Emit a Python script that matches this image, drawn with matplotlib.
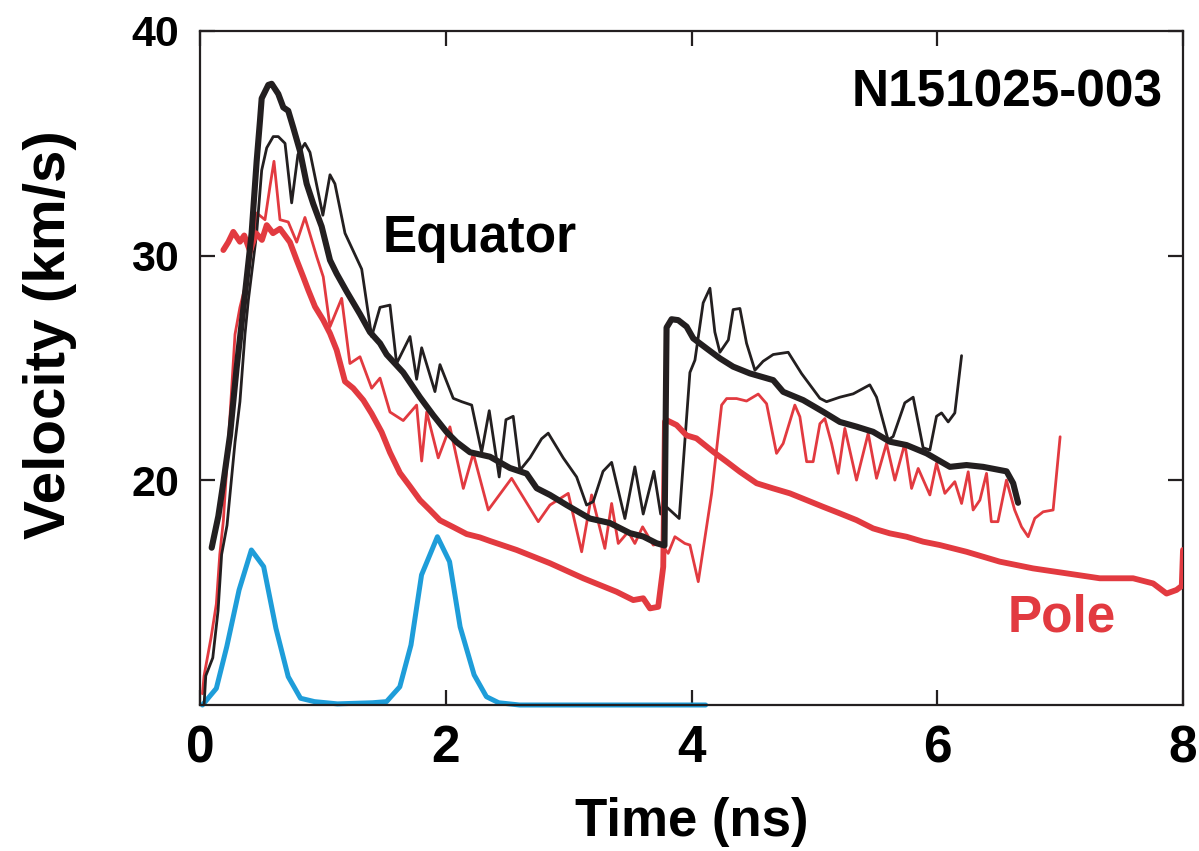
import matplotlib
matplotlib.use("Agg")
import matplotlib.pyplot as plt

# ---------------- data ----------------
eq_fit_t = [0.095, 0.149, 0.19, 0.244, 0.298, 0.366, 0.42, 0.461, 0.488, 0.502, 0.556, 0.583, 0.637, 0.678,
            0.718, 0.759, 0.814, 0.868, 0.922, 0.99, 1.058, 1.112, 1.194, 1.302, 1.383, 1.465, 1.519, 1.654,
            1.79, 1.898, 2.007, 2.089, 2.197, 2.36, 2.522, 2.658, 2.74, 2.848, 2.984, 3.173, 3.336, 3.499,
            3.607, 3.716, 3.78, 3.797, 3.838, 3.892, 3.96, 4.014, 4.123, 4.231, 4.339, 4.475, 4.665, 4.746,
            4.909, 5.072, 5.207, 5.343, 5.478, 5.614, 5.75, 5.913, 6.103, 6.238, 6.373, 6.564, 6.618, 6.658]
eq_fit_v = [17.0, 18.4, 19.9, 22.0, 25.0, 28.3, 31.0, 34.2, 36.0, 37.0, 37.6, 37.65, 37.2, 36.6,
            36.45, 35.7, 34.65, 33.2, 32.3, 31.3, 29.8, 29.2, 28.4, 27.4, 26.6, 26.1, 25.6, 24.8,
            23.7, 22.9, 22.15, 21.7, 21.25, 21.05, 20.55, 20.3, 19.65, 19.35, 18.9, 18.3, 18.1, 17.65,
            17.5, 17.2, 17.1, 26.8, 27.17, 27.13, 26.84, 26.32, 25.87, 25.43, 25.06, 24.76, 24.46, 23.94,
            23.57, 23.05, 22.6, 22.39, 22.16, 21.72, 21.57, 21.2, 20.6, 20.68, 20.6, 20.4, 19.87, 19.0]

eq_t = [0.033, 0.047, 0.104, 0.147, 0.176, 0.22, 0.285, 0.325, 0.366, 0.393, 0.461, 0.502, 0.543, 0.596,
        0.637, 0.692, 0.746, 0.797, 0.854, 0.895, 1.0, 1.058, 1.098, 1.18, 1.316, 1.397, 1.465, 1.546,
        1.60, 1.709, 1.763, 1.804, 1.912, 1.953, 2.061, 2.13, 2.211, 2.292, 2.354, 2.435, 2.49, 2.549,
        2.604, 2.685, 2.78, 2.834, 2.956, 3.065, 3.146, 3.20, 3.28, 3.35, 3.458, 3.539, 3.607, 3.694,
        3.749, 3.80, 3.90, 3.987, 4.028, 4.095, 4.15, 4.19, 4.231, 4.30, 4.339, 4.394, 4.448, 4.516,
        4.583, 4.665, 4.787, 4.896, 5.045, 5.099, 5.207, 5.316, 5.451, 5.506, 5.60, 5.641, 5.736, 5.804,
        5.885, 5.94, 5.994, 6.035, 6.089, 6.143, 6.198]
eq_v = [10.0, 11.3, 12.1, 14.2, 16.7, 18.0, 21.7, 23.5, 26.5, 28.0, 31.0, 33.8, 34.8, 35.3,
        35.3, 35.0, 32.35, 34.5, 35.0, 34.6, 31.8, 33.6, 33.2, 31.0, 29.4, 26.4, 27.7, 27.8,
        25.2, 26.4, 24.5, 25.9, 23.95, 25.15, 23.65, 23.5, 23.35, 21.25, 23.1, 20.15, 22.7, 22.85,
        20.45, 21.0, 21.85, 22.1, 21.0, 20.15, 18.9, 19.05, 20.4, 20.8, 18.3, 20.6, 18.5, 20.4,
        18.5, 18.8, 18.3, 24.8, 25.35, 27.9, 28.55, 26.6, 25.7, 26.25, 27.6, 27.65, 26.1, 24.9,
        25.3, 25.6, 25.7, 24.75, 23.65, 23.5, 23.7, 23.85, 24.25, 23.7, 21.8, 21.95, 23.45, 23.7,
        21.45, 21.35, 22.85, 23.0, 22.6, 23.0, 25.55]

pole_fit_t = [0.19, 0.23, 0.271, 0.325, 0.36, 0.407, 0.456, 0.504, 0.543, 0.594, 0.651, 0.705, 0.732,
              0.787, 0.84, 0.881, 0.936, 1.003, 1.058, 1.112, 1.18, 1.247, 1.329, 1.397, 1.478, 1.546,
              1.627, 1.709, 1.79, 1.871, 1.953, 2.061, 2.17, 2.278, 2.36, 2.577, 2.848, 3.119, 3.39,
              3.526, 3.607, 3.662, 3.729, 3.77, 3.784, 3.797, 3.879, 3.96, 4.04, 4.177, 4.286, 4.394,
              4.53, 4.665, 4.801, 4.937, 5.072, 5.207, 5.343, 5.478, 5.614, 5.75, 5.885, 6.021, 6.238,
              6.509, 6.78, 7.052, 7.323, 7.594, 7.757, 7.866, 7.947, 7.99, 8.0]
pole_fit_v = [30.25, 30.6, 31.06, 30.62, 30.9, 30.2, 31.0, 30.7, 31.36, 31.0, 31.2, 30.8, 30.6,
              29.8, 29.06, 28.47, 27.73, 27.13, 26.54, 25.8, 24.4, 24.1, 23.57, 22.97, 22.15, 21.24,
              20.33, 19.73, 19.12, 18.68, 18.22, 17.92, 17.61, 17.46, 17.3, 16.9, 16.31, 15.64, 15.04,
              14.67, 14.75, 14.3, 14.37, 16.15, 22.61, 22.68, 22.46, 22.0, 21.87, 21.27, 20.83, 20.38,
              19.87, 19.64, 19.42, 19.12, 18.82, 18.53, 18.23, 17.86, 17.64, 17.49, 17.27, 17.12, 16.82,
              16.38, 16.08, 15.86, 15.64, 15.64, 15.41, 14.96, 15.12, 15.3, 16.9]

pole_t = [0.02, 0.033, 0.09, 0.133, 0.161, 0.19, 0.24, 0.285, 0.325, 0.393, 0.461, 0.529, 0.57, 0.602,
          0.651, 0.718, 0.787, 0.854, 0.95, 1.003, 1.058, 1.153, 1.22, 1.302, 1.397, 1.465, 1.546, 1.654,
          1.763, 1.804, 1.845, 1.939, 2.034, 2.143, 2.224, 2.346, 2.536, 2.753, 2.848, 2.997, 3.106,
          3.187, 3.295, 3.35, 3.404, 3.485, 3.539, 3.602, 3.689, 3.75, 3.81, 3.865, 3.946, 3.987, 4.055,
          4.164, 4.245, 4.286, 4.367, 4.448, 4.543, 4.611, 4.692, 4.746, 4.841, 4.882, 4.937, 4.99,
          5.045, 5.085, 5.14, 5.194, 5.248, 5.343, 5.438, 5.506, 5.587, 5.655, 5.736, 5.791, 5.845,
          5.94, 5.994, 6.062, 6.143, 6.198, 6.252, 6.292, 6.347, 6.401, 6.44, 6.494, 6.563, 6.63,
          6.686, 6.74, 6.794, 6.862, 6.943, 7.0]
pole_v = [10.5, 11.3, 13.0, 14.5, 16.7, 18.2, 22.5, 26.5, 27.7, 29.2, 31.9, 31.6, 33.1, 34.2,
          31.6, 31.5, 30.6, 31.7, 29.95, 29.06, 26.84, 28.1, 25.2, 25.5, 24.1, 24.55, 23.04, 22.66,
          23.35, 20.86, 23.04, 21.0, 22.38, 19.64, 21.2, 18.68, 20.09, 18.16, 18.9, 19.42, 16.82,
          19.35, 16.97, 18.97, 17.19, 17.71, 17.19, 17.93, 17.12, 17.2, 16.75, 17.49, 17.19, 17.12, 15.49,
          19.42, 23.35, 23.64, 23.64, 23.53, 23.84, 23.41, 21.2, 21.64, 23.35, 22.83, 20.83, 20.83,
          22.52, 22.75, 21.64, 20.31, 22.31, 20.01, 22.09, 20.09, 21.64, 20.01, 21.64, 19.64, 20.53,
          19.35, 20.76, 19.42, 19.94, 18.97, 20.38, 18.68, 19.12, 20.31, 18.16, 18.16, 20.01, 18.68,
          17.93, 17.49, 18.31, 18.6, 18.68, 21.94]

laser_t = [0.02, 0.133, 0.218, 0.318, 0.418, 0.518, 0.618, 0.718, 0.818, 0.932, 1.118, 1.404, 1.518,
           1.626, 1.717, 1.803, 1.932, 2.031, 2.117, 2.231, 2.331, 2.431, 2.6, 4.115]
laser_v = [10.0, 10.74, 12.6, 15.12, 16.9, 16.16, 13.41, 11.26, 10.3, 10.15, 10.05, 10.1, 10.15,
           10.81, 12.67, 15.79, 17.49, 16.38, 13.48, 11.34, 10.37, 10.1, 10.0, 10.0]

x_ticks = [0, 2, 4, 6, 8]
y_ticks = [20, 30, 40]
shot_label = "N151025-003"

# ---------------- style ----------------
BLACK = "#231f20"
RED = "#e23a40"
BLUE = "#1e9dd9"
FONT = ["Liberation Sans", "DejaVu Sans"]

fig = plt.figure(figsize=(11.99, 8.51), dpi=100)
ax = fig.add_axes([200 / 1199, 1 - 705 / 851, 983 / 1199, 674 / 851])

common = dict(solid_joinstyle="round", solid_capstyle="round")
ax.plot(laser_t, laser_v, color=BLUE, lw=3.6, clip_on=False, zorder=2, **common)
ax.plot(pole_t, pole_v, color=RED, lw=2.0, zorder=3, **common)
ax.plot(eq_t, eq_v, color=BLACK, lw=2.0, zorder=4, **common)
ax.plot(pole_fit_t, pole_fit_v, color=RED, lw=4.2, zorder=5, **common)
ax.plot(eq_fit_t, eq_fit_v, color=BLACK, lw=4.4, zorder=6, **common)

ax.set_xlim(0, 8)
ax.set_ylim(10, 40)
ax.set_xticks(x_ticks)
ax.set_yticks(y_ticks)

for s in ax.spines.values():
    s.set_linewidth(1.6)
    s.set_color(BLACK)

ax.tick_params(axis="both", which="major", direction="in", length=11, width=1.6, color=BLACK,
               top=True, right=True)
ax.tick_params(axis="x", pad=14, labelsize=37)
ax.tick_params(axis="y", pad=15, labelsize=31)
for lab in ax.get_xticklabels() + ax.get_yticklabels():
    lab.set_fontfamily(FONT)
    lab.set_fontweight("bold")

ax.set_xlabel("Time (ns)", fontsize=38, fontweight="bold", family=FONT)
ax.xaxis.set_label_coords(0.5, -0.137)
ax.set_ylabel("Velocity (km/s)", fontsize=42, fontweight="bold", family=FONT)
ax.yaxis.label.set_va("center")
ax.yaxis.set_label_coords(-0.153, 0.549)

ax.text(7.836, 36.66, shot_label, ha="right", va="baseline", fontsize=37,
        fontweight="bold", family=FONT, color="black")
ax.text(1.489, 30.16, "Equator", ha="left", va="baseline", fontsize=37,
        fontweight="bold", family=FONT, color="black")
ax.text(6.574, 13.25, "Pole", ha="left", va="baseline", fontsize=37,
        fontweight="bold", family=FONT, color=RED)

fig.savefig("out.png", dpi=100)
